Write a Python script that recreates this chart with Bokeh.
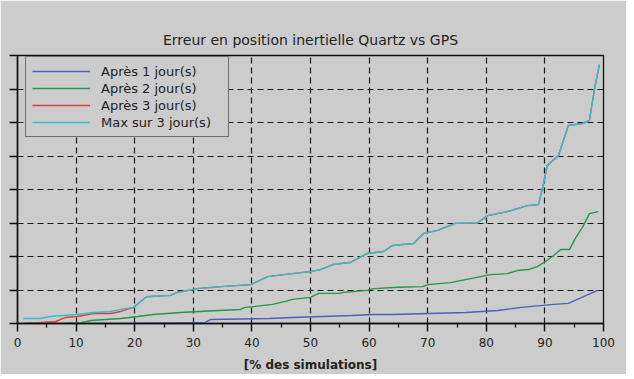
from bokeh.plotting import figure
from bokeh.models import Range1d, FixedTicker, Legend, LegendItem, Title, CustomJSTickFormatter
from bokeh.embed import file_html
from bokeh.resources import INLINE

# ---- data (x in % of simulations, y in grid units; y tick labels are cut off in the source) ----
x_ticks = [0, 10, 20, 30, 40, 50, 60, 70, 80, 90, 100]
x_minor = [5, 15, 25, 35, 45, 55, 65, 75, 85, 95]
y_ticks = [0, 1, 2, 3, 4, 5, 6, 7, 8]

x_j1 = [1, 18, 32, 33, 43, 47, 57, 61, 64, 76.5, 82, 86, 91.5, 94, 99]
y_j1 = [0, 0, 0.03, 0.12, 0.15, 0.18, 0.24, 0.27, 0.27, 0.33, 0.39, 0.48, 0.57, 0.6, 0.99]

x_j2 = [1, 8, 11, 12.5, 17.6, 20.5, 23.2, 27.8, 31, 34.3, 38, 38.9, 40.6, 43.5, 45.7,
        46.9, 50, 51.4, 55.1, 55.6, 59.7, 60.8, 65, 69.1, 70.1, 73.9, 77.3, 80.7, 83.6,
        85.3, 87.2, 88.7, 90.1, 91.5, 92.7, 94.2, 95.2, 96.4, 97.6, 99.1]
y_j2 = [0, 0, 0.03, 0.09, 0.15, 0.21, 0.27, 0.33, 0.36, 0.39, 0.42, 0.48, 0.51, 0.57, 0.66,
        0.72, 0.78, 0.9, 0.9, 0.93, 0.99, 1.04, 1.08, 1.1, 1.16, 1.22, 1.34, 1.46, 1.49,
        1.58, 1.61, 1.7, 1.85, 2.03, 2.21, 2.21, 2.54, 2.87, 3.28, 3.34]

x_j3 = [1.7, 6.5, 8.2, 10.2, 13, 15.9, 17.6, 19.8, 22, 26.1, 27.3, 29.5, 30.7, 34.7, 39.8,
        42.7, 45.4, 48.3, 50, 51.7, 53.8, 55.1, 56.8, 58, 59.7, 62.5, 64, 67.6, 69.3,
        71.7, 74.7, 78.5, 80.2, 83.6, 87, 88.9, 89.9, 90.4, 92.3, 94, 96.4, 97.6, 98.5, 99.3]
y_j3 = [0, 0.06, 0.18, 0.21, 0.3, 0.3, 0.36, 0.48, 0.8, 0.84, 0.93, 1.0, 1.04, 1.1, 1.16,
        1.4, 1.46, 1.52, 1.55, 1.61, 1.76, 1.79, 1.82, 1.94, 2.09, 2.15, 2.33, 2.39, 2.69,
        2.78, 2.99, 3.0, 3.22, 3.34, 3.52, 3.55, 4.27, 4.72, 5.01, 5.91, 5.97, 6.06, 7.04, 7.73]

x_max = [1, 3.9, 5.6, 10, 13, 15.9, 17.6, 19.8, 22, 26.1, 27.3, 29.5, 30.7, 34.7, 39.8,
         42.7, 45.4, 48.3, 50, 51.7, 53.8, 55.1, 56.8, 58, 59.7, 62.5, 64, 67.6, 69.3,
         71.7, 74.7, 78.5, 80.2, 83.6, 87, 88.9, 89.9, 90.4, 92.3, 94, 96.4, 97.6, 98.5, 99.3]
y_max = [0.15, 0.15, 0.21, 0.27, 0.33, 0.36, 0.42, 0.48, 0.8, 0.84, 0.93, 1.0, 1.04, 1.1, 1.16,
         1.4, 1.46, 1.52, 1.55, 1.61, 1.76, 1.79, 1.82, 1.94, 2.09, 2.15, 2.33, 2.39, 2.69,
         2.78, 2.99, 3.0, 3.22, 3.34, 3.52, 3.55, 4.27, 4.72, 5.01, 5.91, 5.97, 6.06, 7.04, 7.73]

labels = ["Après 1 jour(s)", "Après 2 jour(s)", "Après 3 jour(s)", "Max sur 3 jour(s)"]
colors = ["#4b5fbf", "#23964d", "#e8383d", "#2cc3c8"]

BG = "#cccccc"
FONT = "DejaVu Sans"

p = figure(frame_width=586, frame_height=268,
           min_border_left=17, min_border_right=23, min_border_top=55, min_border_bottom=48,
           x_range=Range1d(0, 100), y_range=Range1d(0, 8),
           output_backend="svg", toolbar_location=None, tools="",
           background_fill_color=BG, border_fill_color=BG)

p.title = Title(text="Erreur en position inertielle Quartz vs GPS", align="center",
                text_font=FONT, text_font_size="14px", text_font_style="normal",
                text_color="#222222", standoff=16)
p.outline_line_color = "#111111"
p.outline_line_width = 1.3

# axes
xa = p.xaxis[0]
xa.ticker = FixedTicker(ticks=x_ticks, minor_ticks=x_minor)
xa.axis_label = "[% des simulations]"
xa.axis_label_text_font = FONT
xa.axis_label_text_font_size = "12px"
xa.axis_label_text_font_style = "bold"
xa.axis_label_text_color = "#222222"
xa.axis_label_standoff = 8
xa.major_label_text_font = FONT
xa.major_label_text_font_size = "12px"
xa.major_label_text_color = "#222222"
xa.major_label_standoff = 6
xa.major_tick_out = 8
xa.major_tick_in = 0
xa.minor_tick_out = 4
xa.minor_tick_in = 0
xa.axis_line_color = "#111111"
xa.axis_line_width = 1.5
xa.major_tick_line_color = "#111111"
xa.major_tick_line_width = 1.5
xa.minor_tick_line_color = "#111111"
xa.minor_tick_line_width = 1.3

ya = p.yaxis[0]
ya.ticker = FixedTicker(ticks=y_ticks, minor_ticks=[])
ya.formatter = CustomJSTickFormatter(code="return ''")
ya.major_label_standoff = 0
ya.major_tick_out = 8
ya.major_tick_in = 0
ya.minor_tick_out = 0
ya.minor_tick_in = 0
ya.axis_line_color = "#111111"
ya.axis_line_width = 1.5
ya.major_tick_line_color = "#111111"
ya.major_tick_line_width = 1.5

# grid
for g in (p.xgrid[0], p.ygrid[0]):
    g.grid_line_color = "#1a1a1a"
    g.grid_line_dash = "6 4"
    g.grid_line_width = 1.2
p.xgrid[0].ticker = FixedTicker(ticks=x_ticks[1:-1])
p.ygrid[0].ticker = FixedTicker(ticks=y_ticks[1:-1])

# lines
r1 = p.line(x_j1, y_j1, line_color=colors[0], line_width=1.4)
r2 = p.line(x_j2, y_j2, line_color=colors[1], line_width=1.4)
r3 = p.line(x_j3, y_j3, line_color=colors[2], line_width=1.4)
r4 = p.line(x_max, y_max, line_color=colors[3], line_width=1.4)

legend = Legend(items=[LegendItem(label=l, renderers=[r]) for l, r in zip(labels, [r1, r2, r3, r4])],
                location=(8, 186), orientation="vertical",
                background_fill_color=BG, background_fill_alpha=1.0,
                border_line_color="#111111", border_line_width=1,
                label_text_font=FONT, label_text_font_size="13px", label_text_color="#222222",
                glyph_width=58, glyph_height=16, label_height=16, label_width=121,
                label_standoff=11, spacing=1, padding=6, margin=0)
p.add_layout(legend, "center")

open("out.html", "w").write(file_html(p, INLINE))
